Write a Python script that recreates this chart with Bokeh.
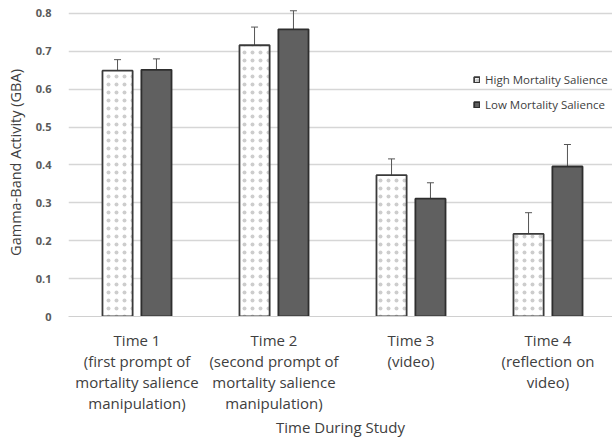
from bokeh.plotting import figure
from bokeh.models import (ColumnDataSource, Whisker, TeeHead, FixedTicker, Range1d,
                          Legend, LegendItem, LinearAxis)
from bokeh.embed import file_html
from bokeh.resources import INLINE

category_lines = [["Time 1", "(first prompt of", "mortality salience", "manipulation)"],
                  ["Time 2", "(second prompt of", "mortality salience", "manipulation)"],
                  ["Time 3", "(video)"],
                  ["Time 4", "(reflection on", "video)"]]
x_title = "Time During Study"
y_title = "Gamma-Band Activity (GBA)"
series_names = ["High Mortality Salience", "Low Mortality Salience"]
high_vals = [0.649, 0.716, 0.373, 0.218]
high_lo = [0.621, 0.667, 0.328, 0.161]
high_hi = [0.678, 0.764, 0.416, 0.274]
low_vals = [0.651, 0.758, 0.311, 0.396]
low_lo = [0.622, 0.708, 0.266, 0.337]
low_hi = [0.680, 0.807, 0.353, 0.454]
y_ticks = [0, 0.1, 0.2, 0.3, 0.4, 0.5, 0.6, 0.7, 0.8]
y_labels = ["0", "0.1", "0.2", "0.3", "0.4", "0.5", "0.6", "0.7", "0.8"]

FONT = "Open Sans"
W, H = 612, 441
BL, BR, BT, BB = 68, 0, 8, 125
Y_END = 0.813

xs = list(range(1, len(category_lines) + 1))
off = 0.142
bw = 0.22

p = figure(width=W, height=H, output_backend="svg", toolbar_location=None,
           x_range=Range1d(0.5, 0.5 + (W - BL - BR) / 137.0), y_range=Range1d(0, Y_END),
           min_border_left=BL, min_border_right=BR, min_border_top=BT,
           min_border_bottom=BB)
p.outline_line_color = None
p.background_fill_color = "white"

src_h = ColumnDataSource(dict(x=[x - off for x in xs], top=high_vals, lo=high_lo, hi=high_hi))
src_l = ColumnDataSource(dict(x=[x + off for x in xs], top=low_vals, lo=low_lo, hi=low_hi))

r_h = p.vbar(x="x", top="top", width=bw, source=src_h, fill_color="white",
             line_color="#3a3a3a", line_width=1.8,
             hatch_pattern="dot", hatch_color="#cdcdcd", hatch_scale=8, hatch_weight=1)
r_l = p.vbar(x="x", top="top", width=bw, source=src_l, fill_color="#606060",
             line_color="#2e2e2e", line_width=1.8)

for src in (src_h, src_l):
    w = Whisker(base="x", upper="hi", lower="lo", source=src,
                line_color="#555555", line_width=1,
                upper_head=TeeHead(size=7, line_color="#555555", line_width=1),
                lower_head=TeeHead(size=7, line_color="#555555", line_width=1))
    p.add_layout(w)

# x axis: one stacked axis per text line of the category labels
n_lines = max(len(c) for c in category_lines)
axes = [p.xaxis[0]]
for i in range(1, n_lines):
    ax = LinearAxis()
    p.add_layout(ax, "below")
    axes.append(ax)
for i, ax in enumerate(axes):
    ax.ticker = FixedTicker(ticks=xs)
    ax.major_label_overrides = {x: (c[i] if i < len(c) else " ") for x, c in zip(xs, category_lines)}
    ax.major_tick_line_color = None
    ax.minor_tick_line_color = None
    ax.major_tick_out = 0
    ax.major_tick_in = 0
    ax.axis_line_color = "#d0d0d0" if i == 0 else None
    ax.major_label_text_font = FONT
    ax.major_label_text_font_size = "15px"
    ax.major_label_text_color = "#404040"
    ax.major_label_standoff = 13 if i == 0 else -2
axes[-1].axis_label = x_title
axes[-1].axis_label_text_font = FONT
axes[-1].axis_label_text_font_size = "15px"
axes[-1].axis_label_text_font_style = "normal"
axes[-1].axis_label_text_color = "#404040"
axes[-1].axis_label_standoff = 1

p.yaxis.ticker = FixedTicker(ticks=y_ticks)
p.yaxis.major_label_overrides = {t: l for t, l in zip(y_ticks, y_labels)}
p.yaxis.axis_line_color = None
p.yaxis.major_tick_line_color = None
p.yaxis.minor_tick_line_color = None
p.yaxis.major_label_text_font = FONT
p.yaxis.major_label_text_font_size = "11px"
p.yaxis.major_label_text_font_style = "bold"
p.yaxis.major_label_text_color = "#5a5a5a"
p.yaxis.major_label_standoff = 11
p.yaxis.axis_label = y_title
p.yaxis.axis_label_text_font = FONT
p.yaxis.axis_label_text_font_size = "14.5px"
p.yaxis.axis_label_text_font_style = "normal"
p.yaxis.axis_label_text_color = "#404040"
p.yaxis.axis_label_standoff = 8

p.xgrid.grid_line_color = None
p.ygrid.grid_line_color = "#d6d6d6"
p.ygrid.grid_line_width = 1.5

legend = Legend(items=[LegendItem(label=series_names[0], renderers=[r_h]),
                       LegendItem(label=series_names[1], renderers=[r_l])],
                location=(405, 204), orientation="vertical",
                glyph_width=7, glyph_height=7, label_height=10, spacing=10,
                padding=0, margin=0, label_standoff=5,
                label_text_font=FONT, label_text_font_size="11.5px",
                label_text_color="#404040",
                border_line_color=None, background_fill_alpha=0)
p.add_layout(legend)

open("out.html", "w").write(file_html(p, INLINE))
